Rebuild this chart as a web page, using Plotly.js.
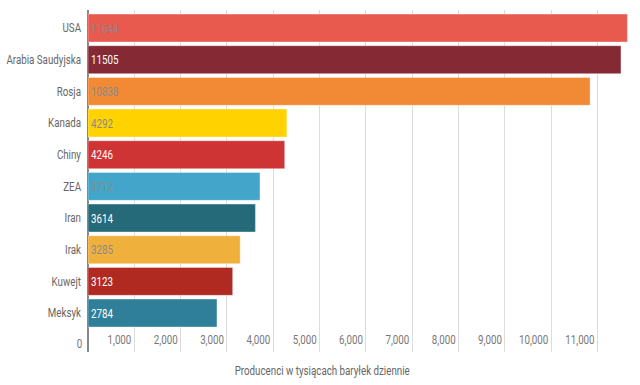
<!DOCTYPE html>
<html>
<head>
<meta charset="utf-8">
<script src="https://cdn.plot.ly/plotly-3.0.1.min.js"></script>
<style>
html,body{margin:0;padding:0;background:#fff;}
#chart{width:640px;height:385px;}
</style>
</head>
<body>
<div id="chart"></div>
<script>
const countries = ["USA", "Arabia Saudyjska", "Rosja", "Kanada", "Chiny", "ZEA", "Iran", "Irak", "Kuwejt", "Meksyk"];
const production = [11644, 11505, 10838, 4292, 4246, 3712, 3614, 3285, 3123, 2784];
const barColors = ["#E8594E", "#852A35", "#F28A35", "#FFD200", "#CF3434", "#43A5CA", "#256A78", "#F0B13C", "#B02A22", "#2F7F9A"];
const labelColors = ["#8a8a8a", "#ffffff", "#8a8a8a", "#8a8a8a", "#ffffff", "#8a8a8a", "#ffffff", "#8a8a8a", "#ffffff", "#ffffff"];
const xTicks = [0, 1000, 2000, 3000, 4000, 5000, 6000, 7000, 8000, 9000, 10000, 11000];
const xTickText = ["0", "1,000", "2,000", "3,000", "4,000", "5,000", "6,000", "7,000", "8,000", "9,000", "10,000", "11,000"];
const axisTitle = "Producenci w tysiącach baryłek dziennie";

const FONT = "Roboto, 'Liberation Sans', sans-serif";
const SQUEEZE = 0.78;

const trace = {
  type: "bar",
  orientation: "h",
  y: countries,
  x: production,
  text: production.map(String),
  textposition: "inside",
  insidetextanchor: "start",
  textfont: {family: FONT, size: 12.5, color: labelColors},
  marker: {color: barColors, line: {color: "rgba(255,255,255,0.35)", width: 1}},
  hoverinfo: "none",
  cliponaxis: false
};

const layout = {
  width: 640, height: 385,
  margin: {l: 88, r: 10, t: 10, b: 33},
  paper_bgcolor: "#fff", plot_bgcolor: "#fff",
  showlegend: false,
  bargap: 0.12,
  font: {family: FONT, size: 12.5, color: "#666"},
  xaxis: {
    range: [0, 11700],
    tickvals: xTicks, ticktext: xTickText,
    tickangle: 0,
    ticklabelposition: "inside left",
    ticklabelshift: -3,
    showgrid: true, gridcolor: "#dcdcdc", gridwidth: 1,
    zeroline: true, zerolinecolor: "#888", zerolinewidth: 2,
    showline: false, ticks: "",
    tickfont: {family: FONT, size: 12.5, color: "#777"},
    fixedrange: true
  },
  yaxis: {
    type: "category",
    categoryorder: "array", categoryarray: countries,
    range: [10.23, -0.57],
    showgrid: false, zeroline: false, showline: false, ticks: "",
    ticklabelstandoff: 6,
    tickfont: {family: FONT, size: 12.5, color: "#666"},
    fixedrange: true
  },
  annotations: [{
    text: axisTitle, xref: "paper", yref: "paper",
    x: (322 - 88) / 542, y: -0.053, xanchor: "center", yanchor: "middle",
    showarrow: false, font: {family: FONT, size: 12.5, color: "#666"}
  }, {
    text: xTickText[0], xref: "x", yref: "paper", x: xTicks[0], y: 0,
    xanchor: "right", yanchor: "bottom", xshift: -3, yshift: -1,
    showarrow: false, font: {family: FONT, size: 12.5, color: "#777"}
  }]
};

Plotly.newPlot("chart", [trace], layout, {displayModeBar: false, staticPlot: true}).then(function (gd) {
  // emulate a condensed face by squeezing glyphs horizontally
  gd.querySelectorAll("svg text").forEach(function (el) {
    if (!el.textContent) return;
    const w = el.getComputedTextLength();
    if (!w) return;
    const anchor = el.getAttribute("text-anchor") || getComputedStyle(el).textAnchor;
    if (el.closest(".bartext") && anchor === "middle") {
      const x0 = parseFloat(el.getAttribute("x") || "0");
      el.setAttribute("x", x0 - w * (1 - SQUEEZE) / 2);
    }
    el.setAttribute("textLength", w * SQUEEZE);
    el.setAttribute("lengthAdjust", "spacingAndGlyphs");
  });
});
</script>
</body>
</html>
